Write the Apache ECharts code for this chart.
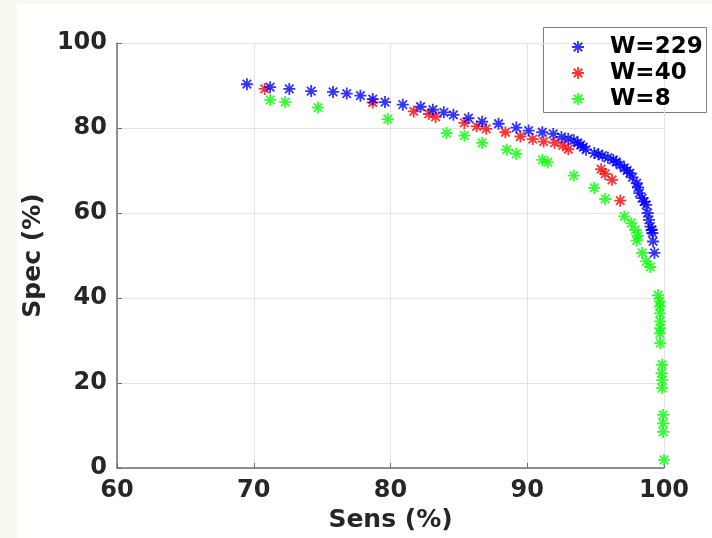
<!DOCTYPE html>
<html>
<head>
<meta charset="utf-8">
<script src="https://cdn.jsdelivr.net/npm/echarts@6/dist/echarts.min.js"></script>
<style>
  html, body { margin: 0; padding: 0; background: #f7f8f0; }
  #paper { position: absolute; left: 17px; top: 4px; right: 0; bottom: 0; background: #fff; }
  #chart { position: absolute; left: 0; top: 0; width: 712px; height: 538px; }
</style>
</head>
<body>
<div id="paper"></div>
<div id="chart"></div>
<script>
// W=229
const sens229 = [69.5, 71.2, 72.6, 74.2, 75.8, 76.8, 77.8, 78.7, 79.6, 80.9, 82.2, 83.1, 83.9, 84.6,
  85.7, 86.7, 87.9, 89.2, 90.1, 91.1, 91.9, 92.5, 93.0, 93.4, 93.7, 93.9, 94.1, 94.3, 94.9, 95.2, 95.5,
  95.9, 96.3, 96.5, 96.8, 97.1, 97.3, 97.5, 97.7, 98.0, 98.1, 98.2, 98.4, 98.55, 98.7, 98.8, 98.9,
  99.0, 99.1, 99.15, 99.2, 99.3]
const spec229 = [90.3, 89.6, 89.2, 88.7, 88.5, 88.1, 87.6, 86.8, 86.1, 85.5, 85.0, 84.3, 83.7, 83.1,
  82.3, 81.5, 81.0, 80.1, 79.4, 79.0, 78.6, 77.9, 77.5, 77.1, 76.5, 76.0, 75.5, 74.9, 74.1, 73.8, 73.5,
  73.0, 72.5, 72.0, 71.3, 70.6, 70.0, 69.4, 68.4, 67.0, 66.0, 64.7, 63.5, 62.7, 61.9, 60.0, 58.4,
  56.8, 56.0, 55.3, 53.3, 50.6]
// W=40
const sens40 = [70.8, 78.7, 81.7, 82.8, 83.3, 85.4, 86.3, 87.0, 88.4, 89.5, 90.4, 91.2, 92.0, 92.6,
  93.0, 95.4, 95.7, 96.2, 96.8]
const spec40 = [89.2, 86.0, 83.9, 83.3, 82.6, 81.2, 80.4, 79.8, 79.0, 78.0, 77.4, 76.8, 76.5, 75.9,
  75.0, 70.3, 69.2, 67.8, 62.9]
// W=8
const sens8 = [71.2, 72.3, 74.7, 79.8, 84.1, 85.4, 86.7, 88.5, 89.2, 91.1, 91.5, 93.4, 94.9, 95.7,
  97.1, 97.6, 97.9, 98.1, 98.0, 98.4, 98.7, 99.0, 99.56, 99.69, 99.7, 99.7, 99.72, 99.72, 99.7, 99.72,
  99.86, 99.82, 99.86, 99.86, 99.93, 99.93, 99.93, 100.0]
const spec8 = [86.6, 86.1, 84.8, 82.1, 78.8, 78.2, 76.5, 74.9, 73.9, 72.5, 71.9, 68.8, 65.9, 63.3,
  59.2, 57.6, 56.0, 54.6, 53.5, 50.6, 48.6, 47.3, 40.7, 39.2, 38.0, 36.4, 34.5, 32.9, 31.7, 29.4,
  24.3, 22.3, 20.7, 18.8, 12.5, 10.5, 8.5, 1.9]

const seriesNames = ['W=229', 'W=40', 'W=8']
const xTicks = [60, 70, 80, 90, 100]
const yTicks = [0, 20, 40, 60, 80, 100]

// matlab style '*' marker
const star = 'path://M8.5 0H11.5V20H8.5Z M0 8.5H20V11.5H0Z M3.99 1.87L18.13 16.01L16.01 18.13L1.87 3.99Z M16.01 1.87L18.13 3.99L3.99 18.13L1.87 16.01Z'
const font = 'DejaVu Sans'
const ink = '#262626'

const zip = (xs, ys) => xs.map((x, i) => [x, ys[i]])

const chart = echarts.init(document.getElementById('chart'))

const option = {
  animation: false,
  textStyle: { fontFamily: font },
  grid: { left: 117, right: 48, top: 43, bottom: 70 },
  graphic: [{
    type: 'rect',
    z: 0,
    shape: { x: 543.5, y: 27.5, width: 163, height: 85 },
    style: { fill: '#fff', stroke: '#7f7f7f', lineWidth: 1 }
  }],
  legend: {
    data: seriesNames,
    orient: 'vertical',
    left: 564,
    top: 29,
    padding: [6, 4, 4, 8],
    itemWidth: 54,
    itemHeight: 12,
    itemGap: 2,
    icon: star,
    z: 5,
    textStyle: { fontFamily: font, fontWeight: 'bold', fontSize: 23, color: '#000', lineHeight: 24 }
  },
  xAxis: {
    type: 'value',
    min: xTicks[0],
    max: xTicks[xTicks.length - 1],
    interval: 10,
    name: 'Sens (%)',
    nameLocation: 'middle',
    nameGap: 39,
    nameTextStyle: { fontFamily: font, fontWeight: 'bold', fontSize: 25, color: ink },
    axisLine: { show: true, lineStyle: { color: '#707070', width: 1.5 } },
    axisTick: { show: true, inside: true, length: 5, lineStyle: { color: '#707070' } },
    axisLabel: { margin: 11, fontFamily: font, fontWeight: 'bold', fontSize: 24, color: ink },
    splitLine: { show: true, lineStyle: { color: '#e3e3e3', width: 1 } }
  },
  yAxis: {
    type: 'value',
    min: yTicks[0],
    max: yTicks[yTicks.length - 1],
    interval: 20,
    name: 'Spec (%)',
    nameLocation: 'middle',
    nameGap: 67,
    nameTextStyle: { fontFamily: font, fontWeight: 'bold', fontSize: 25, color: ink },
    axisLine: { show: true, lineStyle: { color: '#707070', width: 1.5 } },
    axisTick: { show: true, inside: true, length: 5, lineStyle: { color: '#707070' } },
    axisLabel: { margin: 10, fontFamily: font, fontWeight: 'bold', fontSize: 24, color: ink },
    splitLine: { show: true, lineStyle: { color: '#e3e3e3', width: 1 } }
  },
  series: [
    {
      name: seriesNames[0],
      type: 'scatter',
      z: 4,
      symbol: star,
      symbolSize: 12,
      itemStyle: { color: '#0000ff' },
      data: zip(sens229, spec229)
    },
    {
      name: seriesNames[1],
      type: 'scatter',
      z: 3,
      symbol: star,
      symbolSize: 12,
      itemStyle: { color: '#ff0000' },
      data: zip(sens40, spec40)
    },
    {
      name: seriesNames[2],
      type: 'scatter',
      z: 2,
      symbol: star,
      symbolSize: 12,
      itemStyle: { color: '#00ff00' },
      data: zip(sens8, spec8)
    }
  ]
}

chart.setOption(option)
</script>
</body>
</html>
